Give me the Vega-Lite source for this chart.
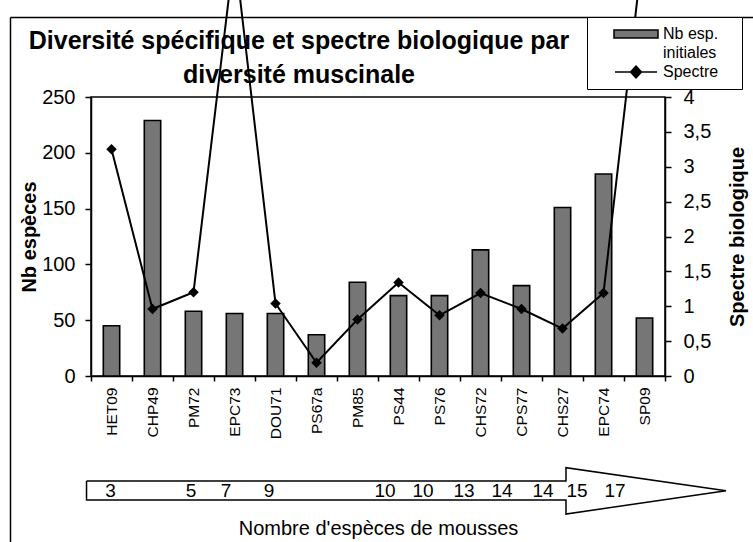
{
  "$schema": "https://vega.github.io/schema/vega-lite/v6.json",
  "width": 574,
  "height": 279,
  "autosize": {"type": "none"},
  "padding": {"left": 91, "top": 97, "right": 88, "bottom": 166},
  "background": "white",
  "title": {
    "text": ["Diversité spécifique et spectre biologique par", "diversité muscinale"],
    "frame": "group",
    "anchor": "middle",
    "dx": -79,
    "offset": -157,
    "font": "Liberation Sans",
    "fontSize": 25,
    "fontWeight": "bold",
    "lineHeight": 34,
    "color": "black"
  },
  "datasets": {
    "samples": [
      {"site": "HET09", "nb": 45, "spectre": 3.25},
      {"site": "CHP49", "nb": 229, "spectre": 0.96},
      {"site": "PM72", "nb": 58, "spectre": 1.2},
      {"site": "EPC73", "nb": 56, "spectre": 6.1},
      {"site": "DOU71", "nb": 56, "spectre": 1.04},
      {"site": "PS67a", "nb": 37, "spectre": 0.19},
      {"site": "PM85", "nb": 84, "spectre": 0.81},
      {"site": "PS44", "nb": 72, "spectre": 1.34},
      {"site": "PS76", "nb": 72, "spectre": 0.87},
      {"site": "CHS72", "nb": 113, "spectre": 1.19},
      {"site": "CPS77", "nb": 81, "spectre": 0.96},
      {"site": "CHS27", "nb": 151, "spectre": 0.68},
      {"site": "EPC74", "nb": 181, "spectre": 1.19},
      {"site": "SP09", "nb": 52, "spectre": 6.3}
    ],
    "arrow": [
      {"pt": 1, "ax": 10.3, "ay": 11.62},
      {"pt": 2, "ax": 74.83, "ay": 11.62},
      {"pt": 3, "ax": 74.83, "ay": 14.15},
      {"pt": 4, "ax": 96.37, "ay": 9.77},
      {"pt": 5, "ax": 74.83, "ay": 5.33},
      {"pt": 6, "ax": 74.83, "ay": 8.0},
      {"pt": 7, "ax": 10.3, "ay": 8.0},
      {"pt": 8, "ax": 10.3, "ay": 11.62}
    ],
    "mosses": [
      {"n": 3, "ax": 13.54},
      {"n": 5, "ax": 24.36},
      {"n": 7, "ax": 29.07},
      {"n": 9, "ax": 34.86},
      {"n": 10, "ax": 50.47},
      {"n": 10, "ax": 55.59},
      {"n": 13, "ax": 61.1},
      {"n": 14, "ax": 66.22},
      {"n": 14, "ax": 71.74},
      {"n": 15, "ax": 76.31},
      {"n": 17, "ax": 81.43}
    ]
  },
  "layer": [
    {
      "data": {"name": "samples"},
      "mark": {"type": "bar", "width": {"band": 0.4}, "fill": "#767676", "stroke": "black", "strokeWidth": 1.6},
      "encoding": {
        "x": {
          "field": "site", "type": "nominal", "sort": null,
          "scale": {"type": "band", "paddingInner": 0, "paddingOuter": 0},
          "axis": {
            "orient": "bottom",
            "title": "Nombre d'espèces de mousses",
            "labelAngle": -90,
            "labelFontSize": 15.5,
            "labelPadding": 6,
            "tickBand": "extent",
            "tickSize": 5,
            "titleY": 152,
            "titleBaseline": "middle",
            "titleFontWeight": "normal",
            "titleFontSize": 20
          }
        },
        "y": {
          "field": "nb", "type": "quantitative",
          "scale": {"domain": [0, 250], "nice": false},
          "axis": {
            "orient": "left",
            "title": "Nb espèces",
            "values": [0, 50, 100, 150, 200, 250],
            "tickSize": 6,
            "labelPadding": 10,
            "titlePadding": 2,
            "titleBaseline": "bottom"
          }
        }
      }
    },
    {
      "data": {"name": "samples"},
      "mark": {"type": "line", "color": "black", "strokeWidth": 2, "clip": false},
      "encoding": {
        "x": {"field": "site", "type": "nominal", "sort": null, "scale": {"type": "point", "padding": 0.5}, "axis": null},
        "y": {
          "field": "spectre", "type": "quantitative",
          "scale": {"domain": [0, 4], "nice": false},
          "axis": {
            "orient": "right",
            "title": "Spectre biologique",
            "values": [0, 0.5, 1, 1.5, 2, 2.5, 3, 3.5, 4],
            "labelExpr": "replace(format(datum.value, '~g'), '.', ',')",
            "tickSize": 6,
            "labelPadding": 12,
            "titleAngle": 270,
            "titleBaseline": "top",
            "titlePadding": 17
          }
        }
      }
    },
    {
      "data": {"name": "samples"},
      "mark": {"type": "point", "shape": "diamond", "filled": true, "color": "black", "size": 110, "opacity": 1, "clip": false},
      "encoding": {
        "x": {"field": "site", "type": "nominal", "sort": null, "scale": {"type": "point", "padding": 0.5}, "axis": null},
        "y": {"field": "spectre", "type": "quantitative", "scale": {"domain": [0, 4], "nice": false}, "axis": null}
      }
    },
    {
      "data": {"values": []},
      "mark": {"type": "point", "filled": true, "opacity": 1, "strokeWidth": 1.5},
      "encoding": {
        "shape": {
          "field": "series", "type": "nominal",
          "scale": {
            "domain": ["Nb esp.", "initiales", "Spectre"],
            "range": ["M-2.75,-0.5L2.75,-0.5L2.75,0.5L-2.75,0.5Z", "M0,0Z", "M-2.625,0L2.625,0M0,-0.75L0.69,0L0,0.75L-0.69,0Z"]
          },
          "legend": {
            "orient": "none", "legendX": 496, "legendY": -80,
            "title": "\u00a0", "titleOrient": "right", "titlePadding": 16, "titleFontSize": 10,
            "fillColor": "white", "strokeColor": "black", "padding": 8,
            "symbolSize": 256, "symbolOffset": 32, "labelOffset": 18,
            "labelFontSize": 16, "labelFont": "Liberation Sans", "labelColor": "black",
            "labelBaseline": "middle",
            "symbolStrokeWidth": 1.5, "rowPadding": 2
          }
        },
        "fill": {
          "field": "series", "type": "nominal",
          "scale": {"domain": ["Nb esp.", "initiales", "Spectre"], "range": ["#767676", "transparent", "#000000"]},
          "legend": {
            "orient": "none", "legendX": 496, "legendY": -80,
            "title": "\u00a0", "titleOrient": "right", "titlePadding": 16, "titleFontSize": 10,
            "fillColor": "white", "strokeColor": "black", "padding": 8,
            "symbolSize": 256, "symbolOffset": 32, "labelOffset": 18,
            "labelFontSize": 16, "labelFont": "Liberation Sans", "labelColor": "black",
            "labelBaseline": "middle",
            "symbolStrokeWidth": 1.5, "rowPadding": 2
          }
        },
        "stroke": {
          "field": "series", "type": "nominal",
          "scale": {"domain": ["Nb esp.", "initiales", "Spectre"], "range": ["#000000", "transparent", "#000000"]},
          "legend": {
            "orient": "none", "legendX": 496, "legendY": -80,
            "title": "\u00a0", "titleOrient": "right", "titlePadding": 16, "titleFontSize": 10,
            "fillColor": "white", "strokeColor": "black", "padding": 8,
            "symbolSize": 256, "symbolOffset": 32, "labelOffset": 18,
            "labelFontSize": 16, "labelFont": "Liberation Sans", "labelColor": "black",
            "labelBaseline": "middle",
            "symbolStrokeWidth": 1.5, "rowPadding": 2
          }
        }
      }
    },
    {
      "data": {"name": "arrow"},
      "mark": {"type": "line", "color": "black", "strokeWidth": 1.5, "clip": false},
      "encoding": {
        "x": {
          "field": "ax", "type": "quantitative",
          "scale": {"domain": [0, 100], "range": [-81, 662], "zero": false, "nice": false},
          "axis": {"orient": "top", "offset": 80, "ticks": false, "labels": false, "title": null, "grid": false}
        },
        "y": {
          "field": "ay", "type": "quantitative",
          "scale": {"domain": [0, 100], "range": [445, -80], "zero": false, "nice": false},
          "axis": {"orient": "left", "offset": 81, "ticks": false, "labels": false, "title": null, "grid": false}
        },
        "order": {"field": "pt", "type": "quantitative"}
      }
    },
    {
      "data": {"name": "mosses"},
      "mark": {"type": "text", "font": "Liberation Sans", "fontSize": 19, "align": "center", "baseline": "middle", "color": "black"},
      "encoding": {
        "x": {
          "field": "ax", "type": "quantitative",
          "scale": {"domain": [0, 100], "range": [-81, 662], "zero": false, "nice": false},
          "axis": null
        },
        "y": {
          "datum": 9.77, "type": "quantitative",
          "scale": {"domain": [0, 100], "range": [445, -80], "zero": false, "nice": false},
          "axis": null
        },
        "text": {"field": "n", "type": "quantitative"}
      }
    }
  ],
  "resolve": {"scale": {"x": "independent", "y": "independent", "shape": "shared", "fill": "shared", "stroke": "shared"}},
  "config": {
    "font": "Liberation Sans",
    "view": {"stroke": "black", "strokeWidth": 1.5},
    "axis": {
      "domainColor": "black", "tickColor": "black", "labelColor": "black", "titleColor": "black",
      "labelFont": "Liberation Sans", "titleFont": "Liberation Sans", "grid": false,
      "domainWidth": 1.5, "tickWidth": 1.5, "labelFontSize": 20, "titleFontSize": 20, "titleFontWeight": "bold"
    }
  }
}
